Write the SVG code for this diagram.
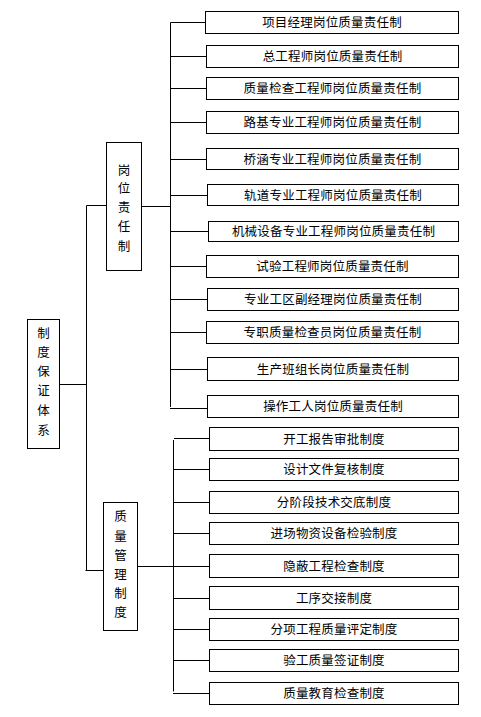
<svg xmlns="http://www.w3.org/2000/svg" width="481" height="717" viewBox="0 0 481 717">
<style>
rect{fill:#fff;stroke:#000;stroke-width:1}
line{stroke:#000;stroke-width:1}
text{font-family:"Noto Sans CJK SC","Liberation Sans",sans-serif;font-size:12.5px;fill:#000;text-anchor:middle;letter-spacing:0.2px}
</style>
<g id="connectors">
<line x1="86.5" y1="205.5" x2="86.5" y2="570.5"/>
<line x1="86.5" y1="205.5" x2="106.5" y2="205.5"/>
<line x1="59.5" y1="384.5" x2="86.5" y2="384.5"/>
<line x1="85.5" y1="570.5" x2="103.5" y2="570.5"/>
<line x1="141.5" y1="206.5" x2="170.5" y2="206.5"/>
<line x1="170.5" y1="22.5" x2="170.5" y2="407"/>
<line x1="170.5" y1="22.5" x2="205.5" y2="22.5"/>
<line x1="170.5" y1="56.5" x2="206.5" y2="56.5"/>
<line x1="170.5" y1="88.5" x2="206.5" y2="88.5"/>
<line x1="170.5" y1="122.5" x2="206.5" y2="122.5"/>
<line x1="170.5" y1="159.5" x2="206.5" y2="159.5"/>
<line x1="170.5" y1="195.5" x2="207.5" y2="195.5"/>
<line x1="170.5" y1="231.5" x2="208.5" y2="231.5"/>
<line x1="170.5" y1="266.5" x2="206.5" y2="266.5"/>
<line x1="170.5" y1="299.5" x2="207.5" y2="299.5"/>
<line x1="170.5" y1="332.5" x2="206.5" y2="332.5"/>
<line x1="170.5" y1="369.5" x2="207.5" y2="369.5"/>
<line x1="170" y1="408.5" x2="207.5" y2="408.5"/>
<line x1="137.5" y1="566.5" x2="173.5" y2="566.5"/>
<line x1="173.5" y1="440" x2="173.5" y2="691.5"/>
<line x1="174" y1="438.5" x2="209.5" y2="438.5"/>
<line x1="173.5" y1="469.5" x2="209.5" y2="469.5"/>
<line x1="173.5" y1="502.5" x2="209.5" y2="502.5"/>
<line x1="173.5" y1="533.5" x2="209.5" y2="533.5"/>
<line x1="173.5" y1="566.5" x2="209.5" y2="566.5"/>
<line x1="173.5" y1="598.5" x2="209.5" y2="598.5"/>
<line x1="173.5" y1="629.5" x2="209.5" y2="629.5"/>
<line x1="173.5" y1="660.5" x2="209.5" y2="660.5"/>
<line x1="173" y1="693.5" x2="209.5" y2="693.5"/>
</g>
<g id="root">
<rect x="27.5" y="319.5" width="32" height="129"/>
<text x="43.5" y="338">制</text>
<text x="43.5" y="357">度</text>
<text x="43.5" y="376.4">保</text>
<text x="43.5" y="395.4">证</text>
<text x="43.5" y="415.4">体</text>
<text x="43.5" y="434.7">系</text>
</g>
<g id="gangwei">
<rect x="106.5" y="142.5" width="35" height="128"/>
<text x="124" y="174.7">岗</text>
<text x="124" y="193">位</text>
<text x="124" y="212">责</text>
<text x="124" y="231.4">任</text>
<text x="124" y="251.4">制</text>
</g>
<g id="zhiliang">
<rect x="103.5" y="502.5" width="34" height="128"/>
<text x="120.5" y="520.7">质</text>
<text x="120.5" y="540.7">量</text>
<text x="120.5" y="560.4">管</text>
<text x="120.5" y="579">理</text>
<text x="120.5" y="598">制</text>
<text x="120.5" y="617">度</text>
</g>
<g id="r1"><rect x="205.5" y="11.5" width="253" height="22"/><text x="332" y="27.2">项目经理岗位质量责任制</text></g>
<g id="r2"><rect x="206.5" y="45.5" width="252" height="22"/><text x="332.5" y="61.2">总工程师岗位质量责任制</text></g>
<g id="r3"><rect x="206.5" y="77.5" width="252" height="22"/><text x="332.5" y="93.2">质量检查工程师岗位质量责任制</text></g>
<g id="r4"><rect x="206.5" y="111.5" width="252" height="22"/><text x="332.5" y="127.2">路基专业工程师岗位质量责任制</text></g>
<g id="r5"><rect x="206.5" y="148.5" width="252" height="21"/><text x="332.5" y="163.7">桥涵专业工程师岗位质量责任制</text></g>
<g id="r6"><rect x="207.5" y="184.5" width="251" height="21"/><text x="333" y="199.7">轨道专业工程师岗位质量责任制</text></g>
<g id="r7"><rect x="208.5" y="221.5" width="250" height="20"/><text x="333.5" y="236.2">机械设备专业工程师岗位质量责任制</text></g>
<g id="r8"><rect x="206.5" y="255.5" width="252" height="22"/><text x="332.5" y="271.2">试验工程师岗位质量责任制</text></g>
<g id="r9"><rect x="207.5" y="288.5" width="251" height="22"/><text x="333" y="304.2">专业工区副经理岗位质量责任制</text></g>
<g id="r10"><rect x="206.5" y="321.5" width="252" height="22"/><text x="332.5" y="337.2">专职质量检查员岗位质量责任制</text></g>
<g id="r11"><rect x="207.5" y="357.5" width="251" height="23"/><text x="333" y="373.7">生产班组长岗位质量责任制</text></g>
<g id="r12"><rect x="207.5" y="395.5" width="251" height="22"/><text x="333" y="411.2">操作工人岗位质量责任制</text></g>
<g id="m1"><rect x="209.5" y="427.5" width="249" height="23"/><text x="334" y="443.7">开工报告审批制度</text></g>
<g id="m2"><rect x="209.5" y="458.5" width="249" height="22"/><text x="334" y="474.2">设计文件复核制度</text></g>
<g id="m3"><rect x="209.5" y="491.5" width="249" height="22"/><text x="334" y="507.2">分阶段技术交底制度</text></g>
<g id="m4"><rect x="209.5" y="522.5" width="249" height="22"/><text x="334" y="538.2">进场物资设备检验制度</text></g>
<g id="m5"><rect x="209.5" y="554.5" width="249" height="23"/><text x="334" y="570.7">隐蔽工程检查制度</text></g>
<g id="m6"><rect x="209.5" y="586.5" width="249" height="23"/><text x="334" y="602.7">工序交接制度</text></g>
<g id="m7"><rect x="209.5" y="618.5" width="249" height="22"/><text x="334" y="634.2">分项工程质量评定制度</text></g>
<g id="m8"><rect x="209.5" y="649.5" width="249" height="22"/><text x="334" y="665.2">验工质量签证制度</text></g>
<g id="m9"><rect x="209.5" y="682.5" width="249" height="22"/><text x="334" y="698.2">质量教育检查制度</text></g>
</svg>
